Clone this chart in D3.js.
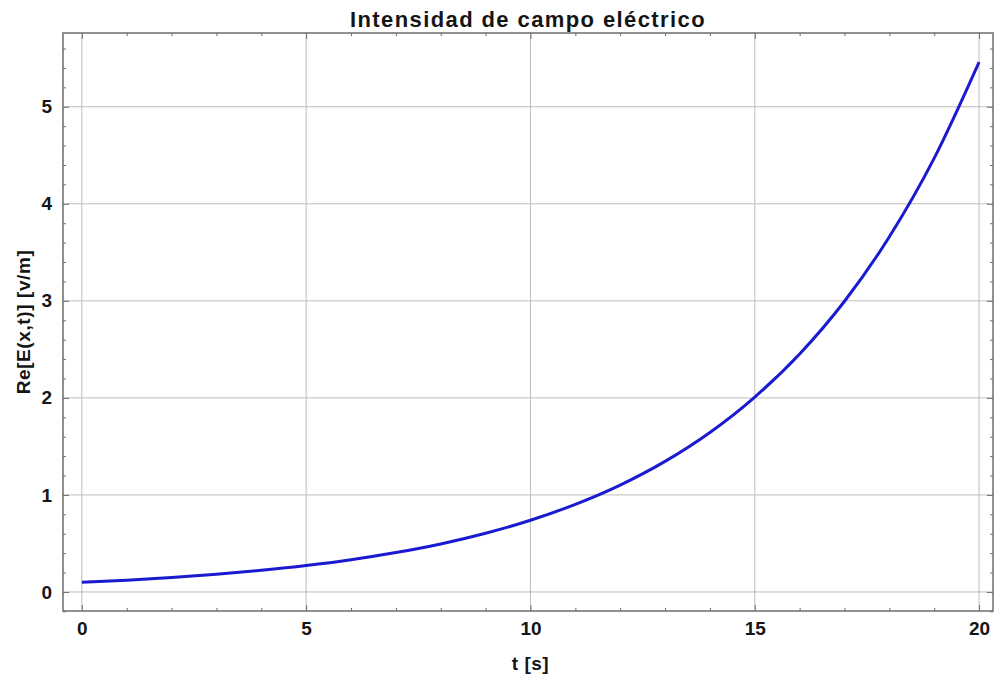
<!DOCTYPE html>
<html lang="es">
  <head>
    <meta charset="UTF-8" />
    <title>Intensidad de campo eléctrico</title>
    <script src="https://d3js.org/d3.v7.min.js"></script>
    <style>
      body { margin: 0; background: #fff; }
      svg { font-family: "Liberation Sans", Arial, sans-serif; font-weight: bold; }
      .grid line { stroke: #bdbdbd; stroke-width: 1; }
      .frame { fill: none; stroke: #6e6e6e; stroke-width: 1.5; }
      .tick line { stroke: #6e6e6e; }
    </style>
  </head>
  <body>
    <svg id="chart" width="994" height="681"></svg>
    <script>
      // valores
      const tValues = [0, 1, 2, 3, 4, 5, 6, 7, 8, 9, 10, 11, 12, 13, 14, 15, 16, 17, 18, 19, 20];
      const eValues = [0.100, 0.122, 0.149, 0.182, 0.223, 0.272, 0.332, 0.406, 0.495, 0.605,
                       0.739, 0.903, 1.102, 1.346, 1.644, 2.009, 2.453, 2.996, 3.660, 4.470, 5.460];
      const xMajor = [0, 5, 10, 15, 20];
      const yMajor = [0, 1, 2, 3, 4, 5];

      const svg = d3.select("#chart");
      const mLeft = 63, mRight = 993, mTop = 33, mBottom = 611;

      const x = d3.scaleLinear().domain([-0.42, 20.31]).range([mLeft, mRight]);
      const y = d3.scaleLinear().domain([-0.196, 5.76]).range([mBottom, mTop]);

      const xMinor = d3.range(0, 21, 1).filter(d => d % 5 !== 0);
      const yMinor = d3.range(-0.2, 5.75, 0.2).map(d => +d.toFixed(1)).filter(d => Math.abs(d - Math.round(d)) > 0.01);

      // rejilla
      const grid = svg.append("g").attr("class", "grid");
      grid.selectAll(".gx").data(xMajor).enter().append("line")
        .attr("x1", d => x(d)).attr("x2", d => x(d)).attr("y1", mTop).attr("y2", mBottom);
      grid.selectAll(".gy").data(yMajor).enter().append("line")
        .attr("x1", mLeft).attr("x2", mRight).attr("y1", d => y(d)).attr("y2", d => y(d));

      // ejes (ticks hacia dentro)
      function addAxis(axis, transform, labels) {
        const g = svg.append("g").attr("transform", transform).call(axis);
        g.select(".domain").remove();
        if (!labels) g.selectAll("text").remove();
        return g;
      }
      const fmt = d3.format("d");
      addAxis(d3.axisBottom(x).tickValues(xMajor).tickSize(-6).tickPadding(11).tickFormat(fmt), `translate(0,${mBottom})`, true);
      addAxis(d3.axisBottom(x).tickValues(xMinor).tickSize(-3), `translate(0,${mBottom})`, false);
      addAxis(d3.axisTop(x).tickValues(xMajor).tickSize(-6), `translate(0,${mTop})`, false);
      addAxis(d3.axisTop(x).tickValues(xMinor).tickSize(-3), `translate(0,${mTop})`, false);
      addAxis(d3.axisLeft(y).tickValues(yMajor).tickSize(-6).tickPadding(11).tickFormat(fmt), `translate(${mLeft},0)`, true);
      addAxis(d3.axisLeft(y).tickValues(yMinor).tickSize(-3), `translate(${mLeft},0)`, false);
      addAxis(d3.axisRight(y).tickValues(yMajor).tickSize(-6), `translate(${mRight},0)`, false);
      addAxis(d3.axisRight(y).tickValues(yMinor).tickSize(-3), `translate(${mRight},0)`, false);
      svg.selectAll(".tick text").attr("font-size", 19).attr("font-family", "Liberation Sans, Arial, sans-serif")
        .attr("font-weight", "bold").attr("fill", "#151515");

      svg.append("rect").attr("class", "frame")
        .attr("x", mLeft).attr("y", mTop).attr("width", mRight - mLeft).attr("height", mBottom - mTop);

      // curva
      const line = d3.line().x((d, i) => x(tValues[i])).y(d => y(d)).curve(d3.curveMonotoneX);
      svg.append("path").datum(eValues)
        .attr("d", line).attr("fill", "none").attr("stroke", "#1a1ad0").attr("stroke-width", 3);

      // textos
      svg.append("text").attr("x", (mLeft + mRight) / 2).attr("y", 27).attr("text-anchor", "middle")
        .attr("font-size", 22).attr("letter-spacing", 1.4).attr("fill", "#151515").text("Intensidad de campo eléctrico");
      svg.append("text").attr("x", x(10)).attr("y", 670).attr("text-anchor", "middle")
        .attr("font-size", 19).attr("letter-spacing", 0.5).attr("fill", "#151515").text("t [s]");
      svg.append("text").attr("transform", "translate(30,322) rotate(-90)")
        .attr("text-anchor", "middle").attr("font-size", 19).attr("letter-spacing", 0.6)
        .attr("fill", "#151515").text("Re[E(x,t)] [v/m]");
    </script>
  </body>
</html>
